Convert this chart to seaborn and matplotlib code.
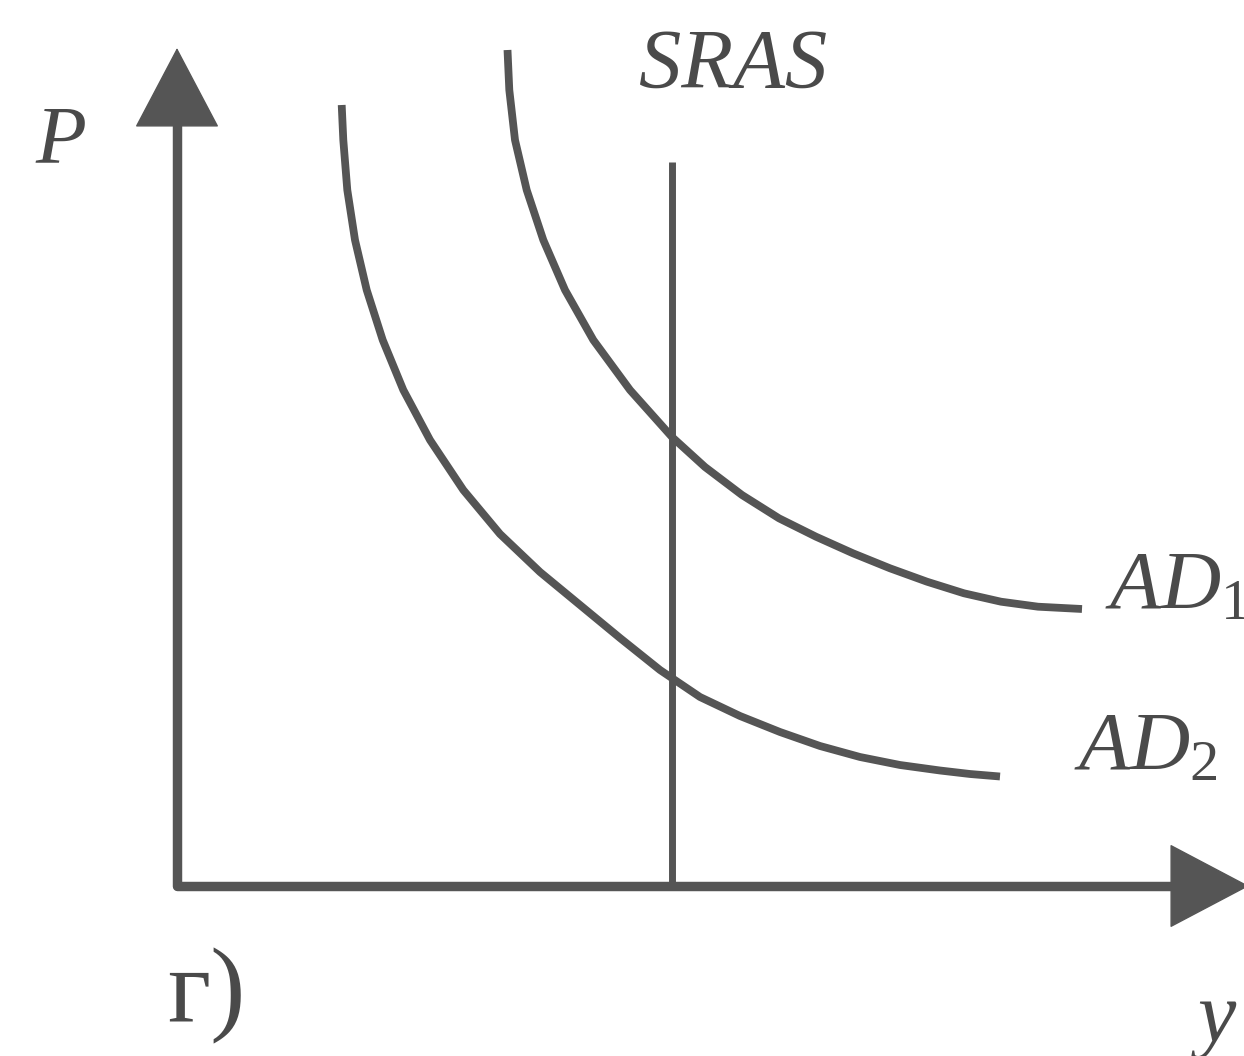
import numpy as np
import pandas as pd
import matplotlib
matplotlib.use("Agg")
import matplotlib.pyplot as plt
import seaborn as sns

# ---- data (Y = output, P = price level) ----
ad1_y = [3.305, 3.323, 3.38, 3.497, 3.663, 3.88, 4.163, 4.53, 4.95, 5.28,
         5.65, 6.02, 6.39, 6.76, 7.13, 7.50, 7.87, 8.24, 8.61, 9.05]
ad1_p = [8.36, 7.96, 7.46, 6.96, 6.46, 5.96, 5.46, 4.96, 4.49, 4.19,
         3.91, 3.677, 3.493, 3.327, 3.177, 3.043, 2.927, 2.843, 2.793, 2.77]

ad2_y = [1.647, 1.663, 1.703, 1.78, 1.897, 2.057, 2.263, 2.53, 2.863, 3.23,
         3.63, 4.03, 4.43, 4.83, 5.23, 5.63, 6.03, 6.43, 6.83, 7.23, 7.63,
         7.93, 8.23]
ad2_p = [7.81, 7.46, 6.96, 6.46, 5.96, 5.46, 4.96, 4.46, 3.96, 3.52,
         3.14, 2.81, 2.48, 2.16, 1.89, 1.70, 1.54, 1.40, 1.29, 1.21, 1.155,
         1.12, 1.095]

sras_y = [4.95, 4.95]
sras_p = [0.0, 7.24]

axis_y_top = 8.38     # tip of P axis arrow
axis_x_right = 10.72  # tip of Y axis arrow

labels = {"P": "P", "SRAS": "SRAS", "AD1": r"$AD_1$", "AD2": r"$AD_2$",
          "Y": "y", "panel": "г)"}

# ---- style ----
sns.set_theme(style="white")
plt.rcParams["font.family"] = ["Liberation Serif", "DejaVu Serif"]
plt.rcParams["mathtext.fontset"] = "custom"
plt.rcParams["mathtext.it"] = "Liberation Serif:italic"
plt.rcParams["mathtext.rm"] = "Liberation Serif"
plt.rcParams["mathtext.bf"] = "Liberation Serif:bold"

line_col = "#555555"
text_col = "#4a4a4a"

fig = plt.figure(figsize=(12.44, 10.56), dpi=100)
fig.patch.set_facecolor("white")
ax = fig.add_axes([0, 0, 1, 1])
ax.set_xlim(-1.77, 10.67)
ax.set_ylim(-1.70, 8.86)
ax.axis("off")

df1 = pd.DataFrame({"Y": ad1_y, "P": ad1_p})
df2 = pd.DataFrame({"Y": ad2_y, "P": ad2_p})
dfs = pd.DataFrame({"Y": sras_y, "P": sras_p})

for d, lw in ((df1, 5.6), (df2, 5.6), (dfs, 5.0)):
    sns.lineplot(data=d, x="Y", y="P", ax=ax, sort=False, estimator=None,
                 color=line_col, linewidth=lw, legend=False)
for ln in ax.lines:
    ln.set_solid_capstyle("butt")
    ln.set_solid_joinstyle("round")

# axes (L shape) and arrow heads
ax.plot([0, 0, axis_x_right - 0.6], [axis_y_top - 0.6, 0, 0],
        color=line_col, lw=6.8, solid_joinstyle="round", solid_capstyle="butt")
head = "-|>,head_length=55,head_width=29"
for tip, start in (((0, axis_y_top), (0, axis_y_top - 1.2)),
                   ((axis_x_right, 0), (axis_x_right - 1.2, 0))):
    ax.annotate("", xy=tip, xytext=start, annotation_clip=False,
                arrowprops=dict(arrowstyle=head, mutation_scale=1,
                                color=line_col, lw=1.0, shrinkA=0, shrinkB=0))

# labels
it = dict(color=text_col, style="italic", va="baseline", ha="left")
ax.text(-1.42, 7.24, labels["P"], fontsize=60, **it)
ax.text(4.62, 7.98, labels["SRAS"], fontsize=61, **it)
ax.text(9.28, 2.78, labels["AD1"], fontsize=60, color=text_col,
        va="baseline", ha="left")
ax.text(8.97, 1.16, labels["AD2"], fontsize=60, color=text_col,
        va="baseline", ha="left")
ax.text(10.2, -1.55, labels["Y"], fontsize=62, **it)
ax.text(-0.10, -1.35, labels["panel"], fontsize=76, color=text_col,
        va="baseline", ha="left")

fig.savefig("out.png", dpi=100, facecolor="white")
